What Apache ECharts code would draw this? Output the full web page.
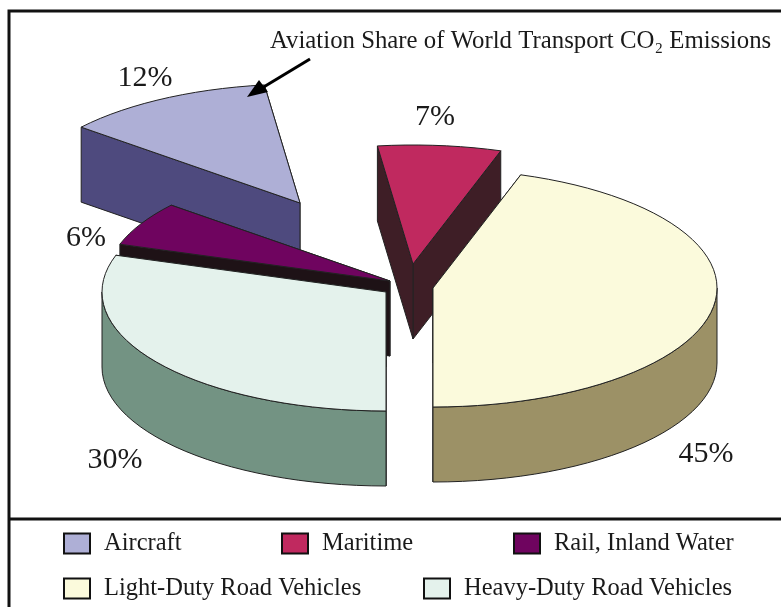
<!DOCTYPE html>
<html><head><meta charset="utf-8">
<style>html,body{margin:0;padding:0;background:#fff}#c{width:781px;height:607px}</style>
<script src="https://cdn.jsdelivr.net/npm/echarts@6/dist/echarts.min.js"></script>
</head><body><div id="c"></div>
<script>
// Data
var categories = ['Aircraft', 'Maritime', 'Rail, Inland Water', 'Light-Duty Road Vehicles', 'Heavy-Duty Road Vehicles'];
var shares = [12, 7, 6, 45, 30];
// Order in which the slices follow each other round the pie
var ringOrder = ['Light-Duty Road Vehicles', 'Maritime', 'Aircraft', 'Rail, Inland Water', 'Heavy-Duty Road Vehicles'];
var annotation = 'Aviation Share of World Transport CO\u2082 Emissions';

// Styling and layout
var FONT = '"Liberation Serif", serif';
var INK = '#1a1a1a';
var RX = 284, RY = 119, DEPTH = 75, START = -90;
var topColors = ['#AEAFD6', '#C0295F', '#6F045F', '#FBFADC', '#E4F2EC'];
var wallColors = ['#4E4A7E', '#3E1E26', '#1E1216', '#9C9166', '#739383'];
var apexes = [[300, 203], [413, 264], [390, 281], [433, 288], [386, 292]];
var labelAt = [[145, 78], [435, 117], [86, 238], [706, 454], [115, 460]];
var legendAt = [[63, 531], [281, 531], [513, 531], [63, 576], [423, 576]];

function sliceRange(name) {
  var total = shares.reduce(function (a, b) { return a + b; }, 0), a = START;
  for (var i = 0; i < ringOrder.length; i++) {
    var sweep = shares[categories.indexOf(ringOrder[i])] / total * 360;
    if (ringOrder[i] === name) return [a, a + sweep];
    a += sweep;
  }
}
function rim(apex, deg, dy) {
  var t = deg * Math.PI / 180;
  return [apex[0] + RX * Math.cos(t), apex[1] - RY * Math.sin(t) + (dy || 0)];
}
function arc(apex, from, to, dy) {
  var pts = [], n = Math.max(2, Math.ceil(Math.abs(to - from) / 3));
  for (var i = 0; i <= n; i++) pts.push(rim(apex, from + (to - from) * i / n, dy));
  return pts;
}
function poly(points, fill) {
  return { type: 'polygon', shape: { points: points },
    style: { fill: fill, stroke: '#222', lineWidth: 1, lineJoin: 'round' } };
}
function makeRender(idx) {
  return function (params, api) {
    var value = api.value(0);
    var r = sliceRange(categories[idx]);
    var apex = apexes[idx], wall = wallColors[idx], top = topColors[idx], kids = [];
    var low = [apex[0], apex[1] + DEPTH];
    [r[0], r[1]].forEach(function (a) {
      kids.push(poly([apex, rim(apex, a), rim(apex, a, DEPTH), low], wall));
    });
    // the outer wall shows only where the rim faces the viewer
    [[-90, 0], [180, 270]].forEach(function (v) {
      var a = Math.max(r[0], v[0]), b = Math.min(r[1], v[1]);
      if (b > a) kids.push(poly(arc(apex, a, b, 0).concat(arc(apex, b, a, DEPTH)), wall));
    });
    kids.push(poly([apex].concat(arc(apex, r[0], r[1], 0)), top));
    kids.push({ type: 'text', z2: 10, style: {
      x: labelAt[idx][0], y: labelAt[idx][1], text: value + '%',
      font: '30px ' + FONT, fill: INK, align: 'center', verticalAlign: 'middle' } });
    return { type: 'group', children: kids };
  };
}

var chart = echarts.init(document.getElementById('c'), null, { renderer: 'canvas' });
chart.setOption({
  animation: false,
  backgroundColor: '#fff',
  legend: categories.map(function (name, i) {
    return { data: [name], left: legendAt[i][0], top: legendAt[i][1], padding: 0,
      orient: 'horizontal', selectedMode: false, icon: 'rect',
      itemWidth: 26, itemHeight: 20, itemGap: 0,
      itemStyle: { borderColor: '#111', borderWidth: 2 },
      textStyle: { fontFamily: FONT, fontSize: 24.5, color: INK, padding: [0, 0, 2, 9] } };
  }),
  series: categories.map(function (name, i) {
    return { type: 'custom', name: name, coordinateSystem: 'none', silent: true,
      itemStyle: { color: topColors[i] }, data: [[shares[i]]], renderItem: makeRender(i) };
  }),
  graphic: [
    { type: 'polyline', shape: { points: [[9, 607], [9, 11], [781, 11]] }, style: { stroke: '#111', lineWidth: 3, fill: null } },
    { type: 'line', shape: { x1: 9, y1: 519, x2: 781, y2: 519 }, style: { stroke: '#111', lineWidth: 3 } },
    { type: 'text', z: 20, style: { x: 270, y: 41, text: annotation, font: '24.8px ' + FONT, fill: INK, verticalAlign: 'middle' } },
    { type: 'line', z: 20, shape: { x1: 310, y1: 59, x2: 262, y2: 88 }, style: { stroke: '#000', lineWidth: 3 } },
    { type: 'polygon', z: 20, shape: { points: [[247, 97], [259, 80], [268, 92]] }, style: { fill: '#000' } }
  ]
});
</script></body></html>
